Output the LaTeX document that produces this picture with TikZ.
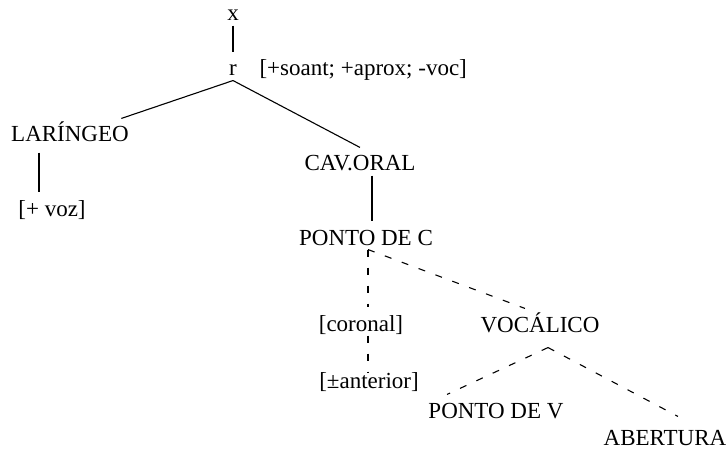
\documentclass[tikz,border=0pt]{standalone}
\usepackage{fontspec}
\setmainfont{Liberation Serif}
\tikzstyle{lbl}=[anchor=base, inner sep=1pt, text height=22pt, text depth=3pt]
\tikzstyle{dsh}=[dash pattern=on 7pt off 11pt]

\begin{document}
\begin{tikzpicture}[x=1pt, y=-1pt, line width=1.1pt, font=\fontsize{23}{27}\selectfont]
                    \useasboundingbox (0,0) rectangle (728,449);
                    \node[lbl] (x) at (233,21) {x};
                    \node[lbl] (r) at (233,76) {r};
                    \node[lbl, anchor=base west] (f) at (258,76) {[+soant; +aprox; -voc]};
                    \node[lbl] (lar) at (70,142) {LARÍNGEO};
                    \node[lbl] (voz) at (52,216) {[+ voz]};
                    \node[lbl] (cav) at (360,171) {CAV.ORAL};
                    \node[lbl] (pc) at (366,245) {PONTO DE C};
                    \node[lbl] (cor) at (361,331) {[coronal]};
                    \node[lbl] (ant) at (369,388) {[±anterior]};
                    \node[lbl] (voc) at (540,332) {VOCÁLICO};
                    \node[lbl] (pv) at (496,418) {PONTO DE V};
                    \node[lbl] (ab) at (665,445) {ABERTURA};
                    \draw (x.south) -- (r.north);
                    \draw (r.south) -- ([xshift=-9pt]lar.north east);
                    \draw (r.south) -- (cav.north);
                    \draw ([xshift=-31pt, yshift=-6pt]lar.south) -- ([xshift=-13pt]voz.north);
                    \draw ([xshift=12pt]cav.south) -- ([xshift=6pt]pc.north);
                    \draw[dsh] ([xshift=2pt]pc.south) -- ([xshift=7pt]cor.north);
                    \draw[dsh] ([xshift=7pt]cor.south) -- ([xshift=-1pt, yshift=-8pt]ant.north);
                    \draw[dsh] ([xshift=2pt]pc.south) -- ([xshift=-15pt]voc.north);
                    \draw[dsh]
                        ([xshift=8pt, yshift=-11pt]voc.south) -- ([xshift=-49pt]pv.north)
                        ([xshift=8pt, yshift=-11pt]voc.south) -- ([xshift=13pt, yshift=5pt]ab.north)
                    ;
                \end{tikzpicture}
\end{document}
